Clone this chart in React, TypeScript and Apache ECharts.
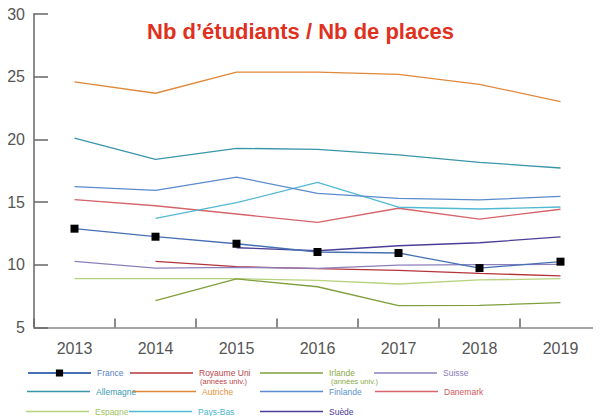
import React, { useEffect, useRef } from "react";
import * as echarts from "echarts";

const years = ["2013", "2014", "2015", "2016", "2017", "2018", "2019"];
const yTicks = [5, 10, 15, 20, 25, 30];

const france = [12.88, 12.24, 11.68, 11.02, 10.94, 9.74, 10.25];
const royaumeUni = [null, 10.28, 9.85, 9.69, 9.56, 9.32, 9.11];
const irlande = [null, 7.14, 8.87, 8.25, 6.74, 6.77, 6.98];
const suisse = [10.28, 9.74, 9.8, 9.72, 9.98, 10.01, 10.04];
const allemagne = [20.11, 18.41, 19.29, 19.21, 18.76, 18.17, 17.72];
const autriche = [24.58, 23.68, 25.37, 25.37, 25.19, 24.39, 23.01];
const finlande = [16.23, 15.94, 17.0, 15.7, 15.3, 15.17, 15.46];
const danemark = [15.19, 14.71, 14.05, 13.39, 14.51, 13.65, 14.43];
const espagne = [8.89, 8.89, 8.89, 8.76, 8.47, 8.79, 8.89];
const paysBas = [null, 13.71, 14.95, 16.58, 14.59, 14.45, 14.61];
const suede = [null, null, 11.36, 11.12, 11.52, 11.76, 12.22];

const seriesDefs = [
  { name: "Espagne", data: espagne, color: "#b7d27e", text: "#a3c468", lx: 26, row: 2 },
  { name: "Irlande", data: irlande, color: "#7f9e3c", text: "#8aab4a", lx: 260, row: 0 },
  { name: "Royaume Uni", data: royaumeUni, color: "#b3343a", text: "#b8464a", lx: 130, row: 0 },
  { name: "Suisse", data: suisse, color: "#8c7fbb", text: "#8b7bb8", lx: 374, row: 0 },
  { name: "Suède", data: suede, color: "#4a3f98", text: "#4b3c95", lx: 260, row: 2 },
  { name: "Danemark", data: danemark, color: "#d6646a", text: "#d2585c", lx: 375, row: 1 },
  { name: "Pays-Bas", data: paysBas, color: "#52b9d3", text: "#4ab5d0", lx: 129, row: 2 },
  { name: "Finlande", data: finlande, color: "#5a8bcd", text: "#5b8fd0", lx: 260, row: 1 },
  { name: "Allemagne", data: allemagne, color: "#3a96a9", text: "#3a9ab0", lx: 27, row: 1 },
  { name: "Autriche", data: autriche, color: "#e0883a", text: "#e59440", lx: 133, row: 1 },
  { name: "France", data: france, color: "#4770b4", text: "#5a7fbf", lx: 27, row: 0 },
];

const rowLineY = [373, 391.5, 411.5];

export default function App() {
  const ref = useRef<HTMLDivElement>(null);
  useEffect(() => {
    if (!ref.current) return;
    const chart = echarts.init(ref.current, undefined, { renderer: "svg" });
    const fontFamily = "'Liberation Sans', Arial, sans-serif";
    const series = seriesDefs.map((s) => {
      const isFrance = s.name === "France";
      return {
        name: s.name,
        type: "line",
        data: s.data,
        symbol: isFrance ? "rect" : "none",
        symbolSize: 8,
        showSymbol: isFrance,
        connectNulls: false,
        z: isFrance ? 5 : 2,
        lineStyle: { color: s.color, width: 1.3 },
        itemStyle: { color: isFrance ? "#000000" : s.color },
        emphasis: { disabled: true },
      };
    });
    const legends = seriesDefs.map((s) => {
      const isFrance = s.name === "France";
      const base: any = {
        left: s.lx,
        padding: 0,
        itemWidth: 63,
        itemGap: 0,
        selectedMode: false,
        textStyle: { fontSize: 8.5, lineHeight: 9, fontFamily, color: s.text, padding: [0, 0, 0, 1] },
      };
      if (isFrance) {
        base.data = [{ name: s.name, textStyle: { color: s.text } }];
        base.itemHeight = 9;
        base.top = rowLineY[s.row] - 4.5;
      } else {
        base.data = [{ name: s.name, icon: "rect", itemStyle: { color: s.color }, textStyle: { color: s.text } }];
        base.itemHeight = 1.5;
        base.top = rowLineY[s.row] - 4.5;
      }
      return base;
    });
    chart.setOption({
      animation: false,
      title: {
        text: "Nb d\u2019étudiants / Nb de places",
        left: "center",
        top: 15,
        textStyle: { fontSize: 22, fontWeight: "bold", color: "#e0301e", fontFamily },
      },
      grid: { left: 34, top: 14, width: 576, height: 313.5, containLabel: false },
      legend: legends,
      xAxis: {
        type: "category",
        data: years,
        boundaryGap: true,
        axisLine: { show: true, lineStyle: { color: "#a6a6a6", width: 2 } },
        axisTick: { show: true, inside: true, length: 9, lineStyle: { color: "#666666", width: 1.5 } },
        axisLabel: { fontSize: 16, color: "#555555", margin: 13, fontFamily },
        splitLine: { show: false },
      },
      yAxis: {
        type: "value",
        min: yTicks[0],
        max: yTicks[yTicks.length - 1],
        interval: 5,
        axisLine: { show: true, lineStyle: { color: "#8c8c8c", width: 2 } },
        axisTick: { show: true, inside: true, length: 14, lineStyle: { color: "#666666", width: 1.5 } },
        axisLabel: { fontSize: 16, color: "#555555", margin: 9, fontFamily, padding: [11, 0, 0, 0] },
        splitLine: { show: false },
      },
      graphic: [
        {
          type: "text",
          left: 200,
          top: 377.5,
          style: { text: "(années univ.)", fontSize: 7.5, lineHeight: 8.5, fill: "#b8464a", fontFamily },
        },
        {
          type: "text",
          left: 331,
          top: 377.5,
          style: { text: "(années univ.)", fontSize: 7.5, lineHeight: 8.5, fill: "#8aab4a", fontFamily },
        },
      ],
      series,
    });
    return () => chart.dispose();
  }, []);
  return <div ref={ref} style={{ width: 601, height: 416, marginLeft: -8, marginTop: -8 }} />;
}
